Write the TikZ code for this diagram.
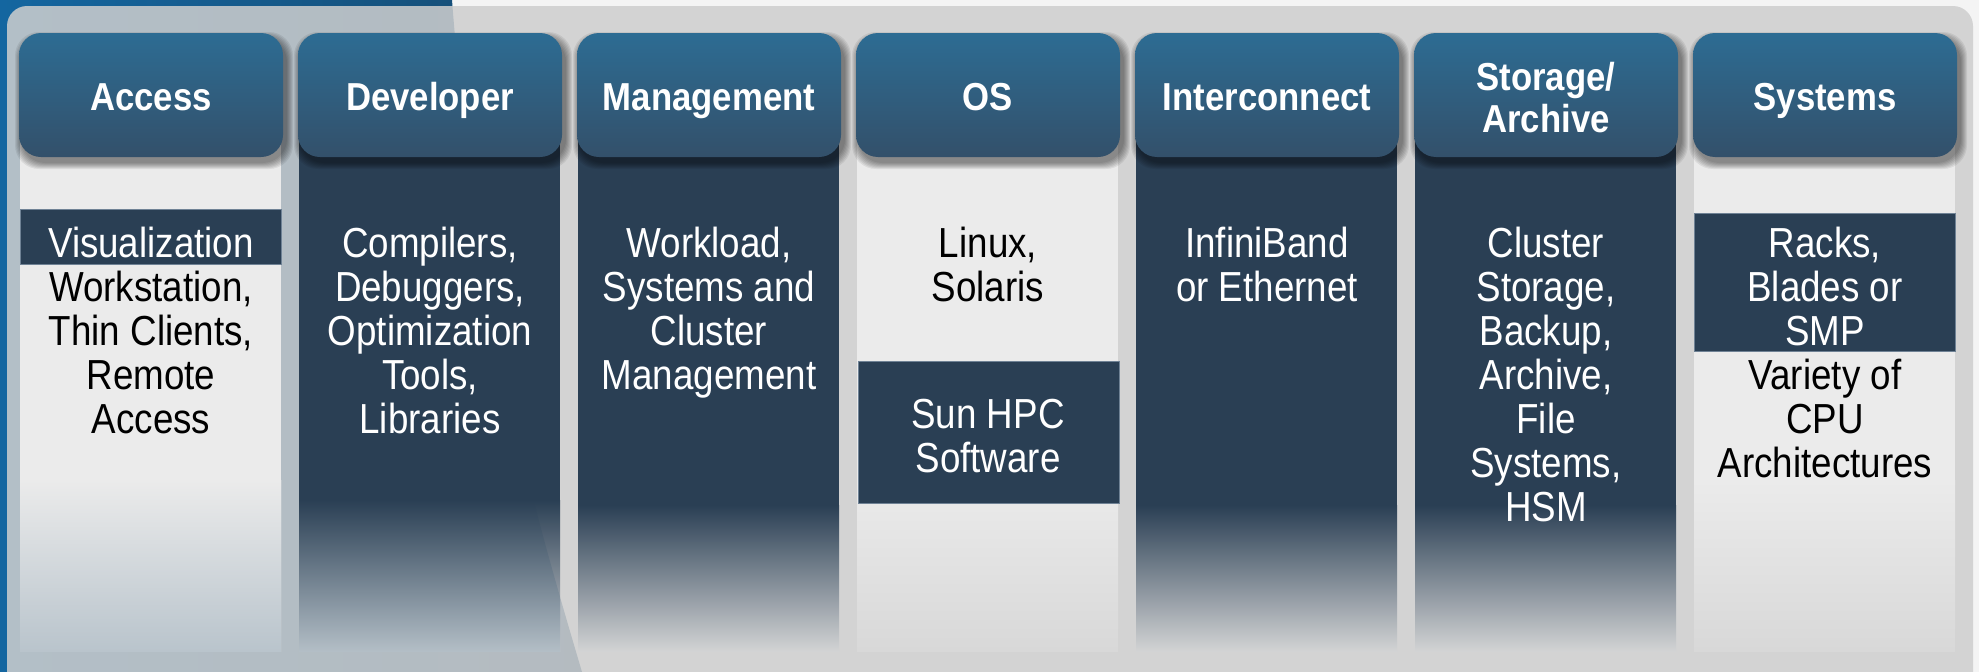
\documentclass[tikz,border=0pt]{standalone}
\usepackage{fontspec}
\setmainfont{Liberation Sans}
\newfontfamily\bodyfont{Liberation Sans}[FakeStretch=0.875]
\newfontfamily\headfont{Liberation Sans}[FakeStretch=0.89]

\definecolor{navy}{HTML}{2A3F54}
\definecolor{bandedge}{HTML}{6F8295}
\definecolor{paper}{HTML}{EBEBEB}
\definecolor{hdtop}{HTML}{2D6C93}
\definecolor{hdbot}{HTML}{33506A}
\definecolor{bgwhite}{HTML}{F4F4F4}
\definecolor{panelgrey}{RGB}{206,206,206}
\definecolor{blueA}{HTML}{1466A0}
\definecolor{blueB}{HTML}{2676AC}
\definecolor{blueC}{HTML}{164A70}
% colours that the column feet fade into
\definecolor{footgrey}{HTML}{D2D3D4}
\definecolor{footblue}{HTML}{B3BEC6}
\definecolor{footpaper}{HTML}{D8D8D8}
\definecolor{footpaperblue}{HTML}{B9C4CC}

% first-line struts so that every text block starts from a fixed baseline
\newcommand\fl{\rule{0pt}{34pt}}
\newcommand\hl{\rule{0pt}{33pt}}

% one column of the stack: left x, fill colour, start of the fade, foot colour
\newcommand\stackfoot[4]{%
  \shade[top color=#2, middle color=#2!72!#4, bottom color=#4]
    (#1+1,#3) rectangle (#1+262,651);
}
\newcommand\stackcol[4]{%
  \fill[#2] (#1+1,120) rectangle (#1+262,#3+1);
  \stackfoot{#1}{#2}{#3}{#4}
}

\tikzset{
  hdr/.style={minimum width=264pt, minimum height=124pt, inner sep=0pt,
    rounded corners=22pt, top color=hdtop, bottom color=hdbot, draw=none},
  hdrtxt/.style={font=\headfont\bfseries\fontsize{39}{42}\selectfont,
    text=white, align=center, inner sep=0pt, anchor=north},
  band/.style={fill=navy, draw=bandedge, line width=0.8pt, inner sep=0pt},
  bodyw/.style={font=\bodyfont\fontsize{42}{44}\selectfont, text=white,
    align=center, inner sep=0pt, anchor=north},
  bodyb/.style={bodyw, text=black},
}

\begin{document}
\begin{tikzpicture}[x=1pt,y=-1pt]
\useasboundingbox (0,0) rectangle (1979,672);

% backdrop: pale page with a blue swoosh on the left
\fill[bgwhite] (0,0) rectangle (1979,672);
\shade[left color=blueA, middle color=blueB, right color=blueC]
  (0,0) -- (452,0) .. controls (475,300) and (525,480) .. (582,672)
  -- (0,672) -- cycle;

% translucent grey panel
\fill[panelgrey, fill opacity=0.86, rounded corners=20pt]
  (7,6) rectangle (1973,720);

% columns
\stackcol{19}{paper}{480}{footpaper}
\stackcol{298}{navy}{500}{footgrey}
\stackcol{577}{navy}{505}{footgrey}
\stackcol{856}{paper}{480}{footpaper}
\stackcol{1135}{navy}{505}{footgrey}
\stackcol{1414}{navy}{505}{footgrey}
\stackcol{1693}{paper}{480}{footpaper}

% feet over the blue swoosh take its tint
\begin{scope}
  \clip (0,0) -- (452,0) .. controls (475,300) and (525,480) .. (582,672)
    -- (0,672) -- cycle;
  \stackfoot{19}{paper}{480}{footpaperblue}
  \stackfoot{298}{navy}{500}{footblue}
\end{scope}

% highlighted bands inside the light columns
\node[band, minimum width=261pt, minimum height=55pt] (visband) at (150.5,236.5) {};
\node[band, minimum width=261pt, minimum height=142pt] (hpcband) at (988.5,432) {};
\node[band, minimum width=261pt, minimum height=138pt] (sysband) at (1824.5,282) {};

% soft shadows under the headers
\foreach \i in {0,...,6}{
  \foreach \k in {1,...,7}{
    \fill[black, opacity=0.07, rounded corners=24pt]
      ({19+279*\i+3-\k},{33+6-\k}) rectangle ({19+279*\i+264+3+\k},{157+5+\k});
  }
}

% headers
\node[hdr] (hAccess) at (151,95) {};
\node[hdr] (hDev)    at (430,95) {};
\node[hdr] (hMgmt)   at (709,95) {};
\node[hdr] (hOS)     at (988,95) {};
\node[hdr] (hIC)     at (1267,95) {};
\node[hdr] (hStor)   at (1546,95) {};
\node[hdr] (hSys)    at (1825,95) {};

\node[hdrtxt] (tAccess) at (151,77) {\hl Access};
\node[hdrtxt] (tDev)    at (430,77) {\hl Developer};
\node[hdrtxt] (tMgmt)   at (709,77) {\hl Management};
\node[hdrtxt] (tOS)     at (988,77) {\hl OS};
\node[hdrtxt] (tIC)     at (1267,77) {\hl Interconnect};
\node[hdrtxt] (tStor)   at (1546,57) {\hl Storage/\\Archive};
\node[hdrtxt] (tSys)    at (1825,77) {\hl Systems};

% column contents
\node[bodyw] (vis) at (151,223) {\fl Visualization};
\node[bodyb] (acc) at (151,267) {\fl Workstation,\\Thin Clients,\\Remote\\Access};

\node[bodyw] (dev) at (430,223) {\fl Compilers,\\Debuggers,\\Optimization\\Tools,\\Libraries};

\node[bodyw] (mgmt) at (709,223) {\fl Workload,\\Systems and\\Cluster\\Management};

\node[bodyb] (os) at (988,223) {\fl Linux,\\Solaris};
\node[bodyw] (hpc) at (988,394) {\fl Sun HPC\\Software};

\node[bodyw] (ic) at (1267,223) {\fl InfiniBand\\or Ethernet};

\node[bodyw] (stor) at (1546,223) {\fl Cluster\\Storage,\\Backup,\\Archive,\\File\\Systems,\\HSM};

\node[bodyw] (racks) at (1825,223) {\fl Racks,\\Blades or\\SMP};
\node[bodyb] (cpu) at (1825,355) {\fl Variety of\\CPU\\Architectures};
\end{tikzpicture}
\end{document}
